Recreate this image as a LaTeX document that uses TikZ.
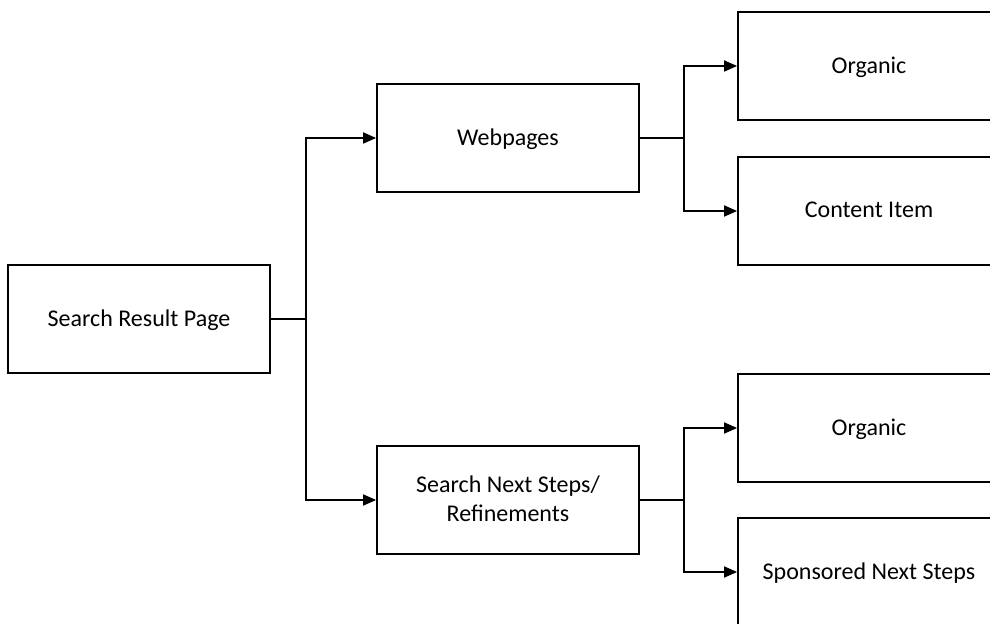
\documentclass[tikz,border=0pt]{standalone}
\usepackage{fontspec}
\setmainfont{Carlito}
\usepackage{tikz}
\usetikzlibrary{arrows.meta,positioning}

\begin{document}
\begin{tikzpicture}[x=0.5pt,y=-0.5pt,>=Triangle,line width=0.9pt,
  box/.style={draw=black,line width=0.9pt,minimum width=131pt,minimum height=54pt,align=center,font=\fontsize{12}{14.5}\selectfont,inner sep=2pt,text depth=1pt},
  arr/.style={-{Triangle[length=6.5pt,width=5.5pt]}}]
\useasboundingbox (0,0) rectangle (990,624);
\clip (0,0) rectangle (990,624);
\node[box] (p0) at (139,319) {Search Result Page};
\node[box] (q1) at (508,138) {Webpages};
\node[box] (q2) at (508,500) {Search Next Steps/\\Refinements};
\node[box] (q10) at (869,66) {Organic};
\node[box] (q11) at (869,211) {Content Item};
\node[box] (q20) at (869,428) {Organic};
\node[box] (q21) at (869,572) {Sponsored Next Steps};
\coordinate (b0) at (306,319);
\coordinate (b1) at (684,138);
\coordinate (b2) at (684,500);
\draw (p0.east)--(b0);
\draw[arr] (b0) |- (q1.west);
\draw[arr] (b0) |- (q2.west);
\draw (q1.east)--(b1);
\draw[arr] (b1) |- (q10.west);
\draw[arr] (b1) |- (q11.west);
\draw (q2.east)--(b2);
\draw[arr] (b2) |- (q20.west);
\draw[arr] (b2) |- (q21.west);
\end{tikzpicture}
\end{document}
